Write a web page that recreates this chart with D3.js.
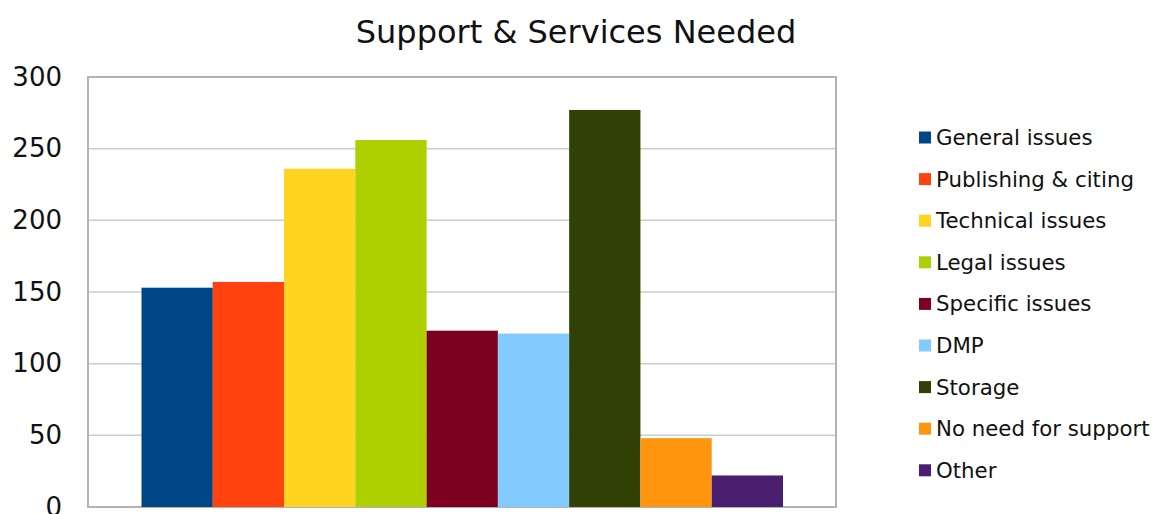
<!DOCTYPE html>
<html>
<head>
<meta charset="utf-8">
<script src="https://cdn.jsdelivr.net/npm/d3@7"></script>
<style>
  body { margin: 0; background: #fff; }
  svg { font-family: "DejaVu Sans", Verdana, sans-serif; }
</style>
</head>
<body>
<svg id="chart" width="1153" height="514"></svg>
<script>
var categories = ["General issues", "Publishing & citing", "Technical issues", "Legal issues",
  "Specific issues", "DMP", "Storage", "No need for support", "Other"];
var values = [153, 157, 236, 256, 123, 121, 277, 48, 22];
var colors = ["#004586", "#ff420e", "#ffd320", "#aecf00", "#7e0021", "#83caff", "#314004", "#ff950e", "#4b1f6f"];
var yTicks = [0, 50, 100, 150, 200, 250, 300];

var svg = d3.select("#chart");
var plotLeft = 88, plotRight = 836, plotTop = 77, plotBottom = 507;

var x = d3.scaleBand().domain(categories).range([141.5, 783]);
var y = d3.scaleLinear().domain([0, 300]).range([plotBottom, plotTop]);

// gridlines
svg.append("g")
  .selectAll("line")
  .data(yTicks.slice(1, -1))
  .enter().append("line")
    .attr("x1", plotLeft).attr("x2", plotRight)
    .attr("y1", function(d) { return y(d); })
    .attr("y2", function(d) { return y(d); })
    .attr("stroke", "#cccccc")
    .attr("stroke-width", 1.5);

// plot border
svg.append("rect")
  .attr("x", plotLeft).attr("y", plotTop)
  .attr("width", plotRight - plotLeft).attr("height", plotBottom - plotTop)
  .attr("fill", "none")
  .attr("stroke", "#b3b3b3")
  .attr("stroke-width", 2);

// bars
svg.append("g")
  .selectAll("rect")
  .data(values)
  .enter().append("rect")
    .attr("x", function(d, i) { return x(categories[i]); })
    .attr("y", function(d) { return y(d); })
    .attr("width", x.bandwidth())
    .attr("height", function(d) { return plotBottom - y(d); })
    .attr("fill", function(d, i) { return colors[i]; });

// y axis labels
var yAxis = d3.axisLeft(y).tickValues(yTicks).tickSize(0).tickPadding(26);
svg.append("g")
  .attr("transform", "translate(" + plotLeft + ",0)")
  .call(yAxis)
  .call(function(g) { g.select(".domain").remove(); })
  .selectAll("text")
    .attr("font-family", "DejaVu Sans, Verdana, sans-serif")
    .attr("font-size", 26)
    .attr("fill", "#111");

// title
svg.append("text")
  .attr("x", 576).attr("y", 43)
  .attr("text-anchor", "middle")
  .attr("font-size", 32)
  .attr("fill", "#111")
  .text("Support & Services Needed");

// legend
var legend = svg.append("g")
  .selectAll("g")
  .data(categories)
  .enter().append("g")
    .attr("transform", function(d, i) { return "translate(919," + (137.5 + i * 41.6) + ")"; });
legend.append("rect")
  .attr("x", 0).attr("y", -6)
  .attr("width", 12).attr("height", 12)
  .attr("fill", function(d, i) { return colors[i]; });
legend.append("text")
  .attr("x", 17).attr("y", 0)
  .attr("dy", "0.35em")
  .attr("font-size", 21.3)
  .attr("fill", "#111")
  .text(function(d) { return d; });
</script>
</body>
</html>
